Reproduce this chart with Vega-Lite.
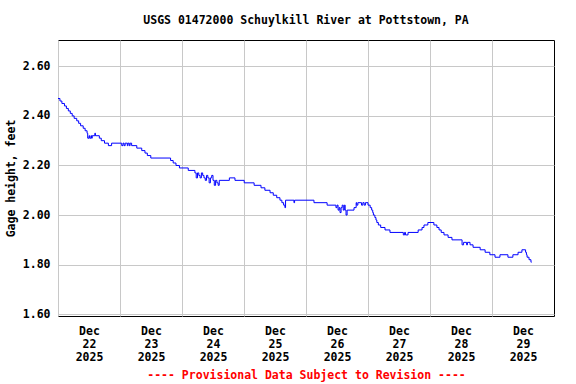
{
  "$schema": "https://vega.github.io/schema/vega-lite/v6.json",
  "autosize": {"type": "none"},
  "width": 496,
  "height": 276,
  "padding": {"left": 58, "top": 40, "right": 22, "bottom": 68},
  "background": "white",
  "title": {"text": "USGS 01472000 Schuylkill River at Pottstown, PA", "font": "DejaVu Sans Mono", "fontSize": 11.5, "fontWeight": "bold", "color": "#000000", "offset": 14, "anchor": "middle"},
  "data": {"values": [
    {"t": "2025-12-22T00:00", "v": 2.47},
    {"t": "2025-12-22T00:45", "v": 2.46},
    {"t": "2025-12-22T01:30", "v": 2.45},
    {"t": "2025-12-22T02:30", "v": 2.44},
    {"t": "2025-12-22T03:15", "v": 2.43},
    {"t": "2025-12-22T04:00", "v": 2.42},
    {"t": "2025-12-22T04:45", "v": 2.41},
    {"t": "2025-12-22T05:30", "v": 2.40},
    {"t": "2025-12-22T06:15", "v": 2.39},
    {"t": "2025-12-22T07:15", "v": 2.38},
    {"t": "2025-12-22T08:00", "v": 2.37},
    {"t": "2025-12-22T08:45", "v": 2.36},
    {"t": "2025-12-22T09:45", "v": 2.35},
    {"t": "2025-12-22T10:30", "v": 2.34},
    {"t": "2025-12-22T11:15", "v": 2.33},
    {"t": "2025-12-22T11:30", "v": 2.31},
    {"t": "2025-12-22T12:00", "v": 2.32},
    {"t": "2025-12-22T12:15", "v": 2.31},
    {"t": "2025-12-22T12:45", "v": 2.32},
    {"t": "2025-12-22T13:00", "v": 2.31},
    {"t": "2025-12-22T13:15", "v": 2.32},
    {"t": "2025-12-22T14:15", "v": 2.33},
    {"t": "2025-12-22T14:30", "v": 2.32},
    {"t": "2025-12-22T16:00", "v": 2.31},
    {"t": "2025-12-22T16:45", "v": 2.30},
    {"t": "2025-12-22T18:00", "v": 2.29},
    {"t": "2025-12-22T19:30", "v": 2.28},
    {"t": "2025-12-22T20:45", "v": 2.29},
    {"t": "2025-12-23T00:40", "v": 2.28},
    {"t": "2025-12-23T01:10", "v": 2.29},
    {"t": "2025-12-23T01:35", "v": 2.28},
    {"t": "2025-12-23T02:00", "v": 2.29},
    {"t": "2025-12-23T02:50", "v": 2.28},
    {"t": "2025-12-23T03:05", "v": 2.29},
    {"t": "2025-12-23T03:35", "v": 2.28},
    {"t": "2025-12-23T03:55", "v": 2.29},
    {"t": "2025-12-23T04:30", "v": 2.28},
    {"t": "2025-12-23T06:30", "v": 2.27},
    {"t": "2025-12-23T08:25", "v": 2.26},
    {"t": "2025-12-23T09:40", "v": 2.25},
    {"t": "2025-12-23T10:35", "v": 2.24},
    {"t": "2025-12-23T11:55", "v": 2.23},
    {"t": "2025-12-23T19:35", "v": 2.22},
    {"t": "2025-12-23T20:35", "v": 2.21},
    {"t": "2025-12-23T21:40", "v": 2.20},
    {"t": "2025-12-23T23:00", "v": 2.19},
    {"t": "2025-12-24T02:25", "v": 2.18},
    {"t": "2025-12-24T05:00", "v": 2.17},
    {"t": "2025-12-24T05:30", "v": 2.15},
    {"t": "2025-12-24T06:00", "v": 2.17},
    {"t": "2025-12-24T06:30", "v": 2.16},
    {"t": "2025-12-24T07:00", "v": 2.15},
    {"t": "2025-12-24T07:30", "v": 2.17},
    {"t": "2025-12-24T08:00", "v": 2.16},
    {"t": "2025-12-24T08:30", "v": 2.15},
    {"t": "2025-12-24T09:00", "v": 2.14},
    {"t": "2025-12-24T09:30", "v": 2.16},
    {"t": "2025-12-24T10:00", "v": 2.15},
    {"t": "2025-12-24T10:30", "v": 2.13},
    {"t": "2025-12-24T11:00", "v": 2.15},
    {"t": "2025-12-24T11:30", "v": 2.16},
    {"t": "2025-12-24T12:00", "v": 2.14},
    {"t": "2025-12-24T12:30", "v": 2.12},
    {"t": "2025-12-24T13:00", "v": 2.14},
    {"t": "2025-12-24T13:30", "v": 2.13},
    {"t": "2025-12-24T14:00", "v": 2.12},
    {"t": "2025-12-24T14:25", "v": 2.14},
    {"t": "2025-12-24T18:20", "v": 2.15},
    {"t": "2025-12-24T20:30", "v": 2.14},
    {"t": "2025-12-25T00:05", "v": 2.13},
    {"t": "2025-12-25T03:55", "v": 2.12},
    {"t": "2025-12-25T06:35", "v": 2.11},
    {"t": "2025-12-25T08:05", "v": 2.10},
    {"t": "2025-12-25T10:05", "v": 2.09},
    {"t": "2025-12-25T11:20", "v": 2.08},
    {"t": "2025-12-25T12:40", "v": 2.07},
    {"t": "2025-12-25T13:55", "v": 2.06},
    {"t": "2025-12-25T14:40", "v": 2.05},
    {"t": "2025-12-25T15:20", "v": 2.04},
    {"t": "2025-12-25T15:50", "v": 2.03},
    {"t": "2025-12-25T16:05", "v": 2.06},
    {"t": "2025-12-25T19:20", "v": 2.05},
    {"t": "2025-12-25T19:35", "v": 2.06},
    {"t": "2025-12-26T03:05", "v": 2.05},
    {"t": "2025-12-26T08:10", "v": 2.04},
    {"t": "2025-12-26T11:35", "v": 2.03},
    {"t": "2025-12-26T12:00", "v": 2.04},
    {"t": "2025-12-26T12:25", "v": 2.02},
    {"t": "2025-12-26T12:50", "v": 2.03},
    {"t": "2025-12-26T13:10", "v": 2.01},
    {"t": "2025-12-26T13:35", "v": 2.03},
    {"t": "2025-12-26T14:00", "v": 2.04},
    {"t": "2025-12-26T14:25", "v": 2.02},
    {"t": "2025-12-26T14:50", "v": 2.04},
    {"t": "2025-12-26T15:10", "v": 2.02},
    {"t": "2025-12-26T15:30", "v": 2.00},
    {"t": "2025-12-26T15:55", "v": 2.02},
    {"t": "2025-12-26T18:35", "v": 2.03},
    {"t": "2025-12-26T19:25", "v": 2.05},
    {"t": "2025-12-26T19:40", "v": 2.04},
    {"t": "2025-12-26T20:05", "v": 2.05},
    {"t": "2025-12-26T21:30", "v": 2.04},
    {"t": "2025-12-26T22:00", "v": 2.05},
    {"t": "2025-12-26T22:30", "v": 2.04},
    {"t": "2025-12-26T23:00", "v": 2.05},
    {"t": "2025-12-27T00:00", "v": 2.04},
    {"t": "2025-12-27T00:50", "v": 2.03},
    {"t": "2025-12-27T01:25", "v": 2.02},
    {"t": "2025-12-27T01:50", "v": 2.01},
    {"t": "2025-12-27T02:05", "v": 2.00},
    {"t": "2025-12-27T02:40", "v": 1.99},
    {"t": "2025-12-27T03:05", "v": 1.98},
    {"t": "2025-12-27T03:25", "v": 1.97},
    {"t": "2025-12-27T04:00", "v": 1.96},
    {"t": "2025-12-27T04:55", "v": 1.95},
    {"t": "2025-12-27T06:35", "v": 1.94},
    {"t": "2025-12-27T08:30", "v": 1.93},
    {"t": "2025-12-27T13:40", "v": 1.92},
    {"t": "2025-12-27T14:10", "v": 1.93},
    {"t": "2025-12-27T14:30", "v": 1.92},
    {"t": "2025-12-27T15:30", "v": 1.93},
    {"t": "2025-12-27T19:25", "v": 1.94},
    {"t": "2025-12-27T20:55", "v": 1.95},
    {"t": "2025-12-27T21:40", "v": 1.96},
    {"t": "2025-12-27T23:10", "v": 1.97},
    {"t": "2025-12-28T01:30", "v": 1.96},
    {"t": "2025-12-28T02:40", "v": 1.95},
    {"t": "2025-12-28T03:30", "v": 1.94},
    {"t": "2025-12-28T04:20", "v": 1.93},
    {"t": "2025-12-28T05:25", "v": 1.92},
    {"t": "2025-12-28T07:00", "v": 1.91},
    {"t": "2025-12-28T08:30", "v": 1.90},
    {"t": "2025-12-28T12:25", "v": 1.88},
    {"t": "2025-12-28T13:00", "v": 1.89},
    {"t": "2025-12-28T14:10", "v": 1.88},
    {"t": "2025-12-28T14:30", "v": 1.89},
    {"t": "2025-12-28T15:30", "v": 1.88},
    {"t": "2025-12-28T16:40", "v": 1.87},
    {"t": "2025-12-28T19:25", "v": 1.86},
    {"t": "2025-12-28T21:20", "v": 1.85},
    {"t": "2025-12-28T23:10", "v": 1.84},
    {"t": "2025-12-29T01:10", "v": 1.83},
    {"t": "2025-12-29T03:05", "v": 1.84},
    {"t": "2025-12-29T06:10", "v": 1.83},
    {"t": "2025-12-29T08:05", "v": 1.84},
    {"t": "2025-12-29T10:05", "v": 1.85},
    {"t": "2025-12-29T11:35", "v": 1.86},
    {"t": "2025-12-29T13:00", "v": 1.85},
    {"t": "2025-12-29T13:20", "v": 1.84},
    {"t": "2025-12-29T13:35", "v": 1.83},
    {"t": "2025-12-29T14:20", "v": 1.82},
    {"t": "2025-12-29T15:05", "v": 1.81},
    {"t": "2025-12-29T15:20", "v": 1.81}
  ]},
  "mark": {"type": "line", "interpolate": "step-after", "color": "#0000ff", "strokeWidth": 1},
  "encoding": {
    "x": {
      "field": "t", "type": "temporal",
      "scale": {"domain": [{"year": 2025, "month": 12, "date": 22}, {"year": 2025, "month": 12, "date": 30}], "nice": false},
      "axis": {
        "values": [
          {"year": 2025, "month": 12, "date": 22},
          {"year": 2025, "month": 12, "date": 23},
          {"year": 2025, "month": 12, "date": 24},
          {"year": 2025, "month": 12, "date": 25},
          {"year": 2025, "month": 12, "date": 26},
          {"year": 2025, "month": 12, "date": 27},
          {"year": 2025, "month": 12, "date": 28},
          {"year": 2025, "month": 12, "date": 29}
        ],
        "labelExpr": "[timeFormat(datum.value, '%b'), timeFormat(datum.value, '%d'), timeFormat(datum.value, '%Y')]",
        "labelOffset": 31,
        "labelFlush": false,
        "labelOverlap": false,
        "labelBound": false,
        "labelPadding": 9,
        "labelLineHeight": 13,
        "ticks": false,
        "domain": false,
        "grid": true,
        "title": "---- Provisional Data Subject to Revision ----",
        "titleColor": "#ff0000",
        "titlePadding": 7
      }
    },
    "y": {
      "field": "v", "type": "quantitative",
      "scale": {"domain": [1.593, 2.706], "nice": false, "zero": false},
      "axis": {
        "values": [1.6, 1.8, 2.0, 2.2, 2.4, 2.6],
        "format": ".2f",
        "ticks": false,
        "domain": false,
        "grid": true,
        "labelPadding": 8,
        "title": "Gage height, feet",
        "titlePadding": 6
      }
    }
  },
  "config": {
    "font": "DejaVu Sans Mono",
    "view": {"stroke": "#000000", "strokeWidth": 1},
    "axis": {
      "labelFont": "DejaVu Sans Mono",
      "labelFontWeight": "bold",
      "labelFontSize": 11.5,
      "labelColor": "#000000",
      "titleFont": "DejaVu Sans Mono",
      "titleFontWeight": "bold",
      "titleFontSize": 11.5,
      "titleColor": "#000000",
      "gridColor": "#c8c8c8",
      "gridWidth": 1,
      "gridOpacity": 1
    }
  }
}
